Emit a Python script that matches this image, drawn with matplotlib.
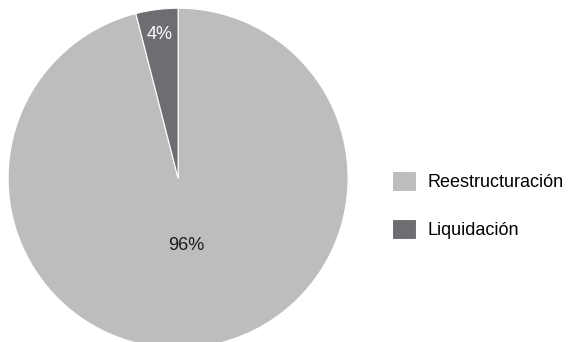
import numpy as np
import matplotlib.pyplot as plt

plt.rcParams['font.family'] = ['Liberation Sans', 'DejaVu Sans']

# data
labels = ['Reestructuración', 'Liquidación']
values = [96, 4]
colors = ['#bdbdbd', '#6d6e71']
text_colors = ['#1a1a1a', 'white']

fig = plt.figure(figsize=(5.69, 3.42), dpi=100)
ax = fig.add_axes([0.014, -0.018, 0.598, 0.994])

wedges, texts, autotexts = ax.pie(
    values, colors=colors, startangle=90, counterclock=False,
    autopct='%d%%', pctdistance=0.85,
    wedgeprops=dict(edgecolor='white', linewidth=0.8),
    textprops=dict(fontsize=13))

for t, c in zip(autotexts, text_colors):
    t.set_color(c)

# big slice label sits closer to the centre
x, y = autotexts[0].get_position()
autotexts[0].set_position((x * 0.4 / 0.85, y * 0.4 / 0.85))

ax.set_xlim(-1, 1)
ax.set_ylim(-1, 1)
ax.set_aspect('equal')

fig.legend(wedges, labels, loc='center left', bbox_to_anchor=(0.689, 0.40),
           frameon=False, fontsize=13, handlelength=1.3, handleheight=1.3,
           labelspacing=1.55, handletextpad=0.65, borderpad=0, borderaxespad=0)

fig.savefig('out.png', dpi=100)
